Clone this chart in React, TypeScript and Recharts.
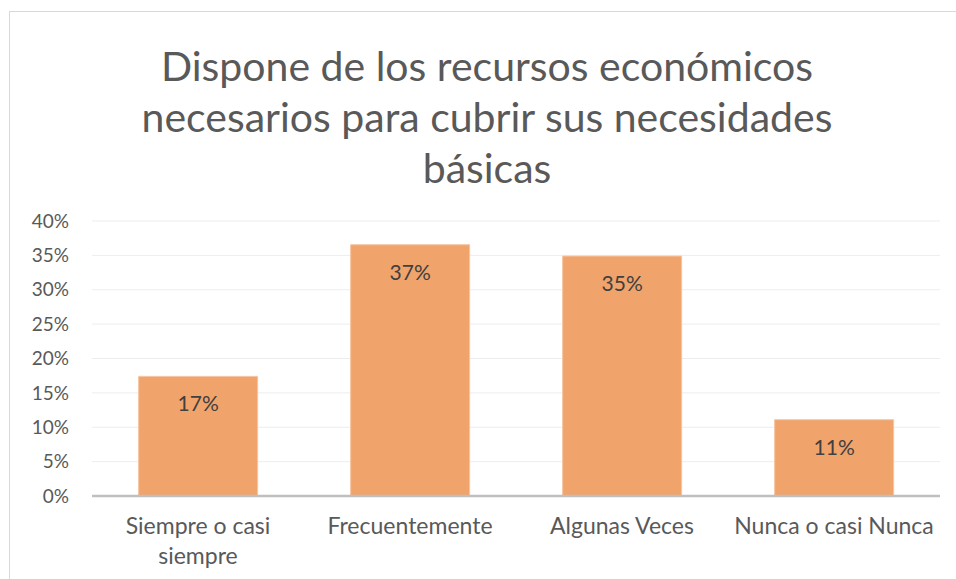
import React from "react";
import { BarChart, Bar, XAxis, YAxis, CartesianGrid, LabelList } from "recharts";

const titleLines = [
  "Dispone de los recursos económicos",
  "necesarios para cubrir sus necesidades",
  "básicas",
];
const categories = ["Siempre o casi siempre", "Frecuentemente", "Algunas Veces", "Nunca o casi Nunca"];
const values = [0.174, 0.3655, 0.349, 0.111];
const yTicks = [0, 0.05, 0.1, 0.15, 0.2, 0.25, 0.3, 0.35, 0.4];

const data = categories.map((c, i) => ({ name: c, value: values[i] }));

const FONT = "Lato, 'Open Sans', sans-serif";

let ctx: CanvasRenderingContext2D | null = null;
const measure = (s: string, font: string) => {
  if (!ctx) ctx = document.createElement("canvas").getContext("2d");
  if (!ctx) return s.length * 10;
  ctx.font = font;
  return ctx.measureText(s).width;
};

const wrap = (text: string, maxW: number, font: string) => {
  const words = text.split(" ");
  const lines: string[] = [];
  let cur = "";
  words.forEach((w) => {
    const t = cur ? cur + " " + w : w;
    if (cur && measure(t, font) > maxW) {
      lines.push(cur);
      cur = w;
    } else cur = t;
  });
  if (cur) lines.push(cur);
  return lines;
};

const XTick = (props: any) => {
  const { x, y, payload } = props;
  const lines = wrap(String(payload.value), 205, "23px Lato");
  return (
    <text x={x} y={y + 30} textAnchor="middle" fill="#595959" fontSize={23} fontFamily={FONT}>
      {lines.map((l, i) => (
        <tspan key={i} x={x} dy={i === 0 ? 0 : 30}>
          {l}
        </tspan>
      ))}
    </text>
  );
};

const BarLabel = (props: any) => {
  const { x, y, width, value } = props;
  return (
    <text
      x={x + width / 2}
      y={y + 35}
      textAnchor="middle"
      fill="#404040"
      fontSize={21}
      fontFamily={FONT}
    >
      {Math.round(value * 100) + "%"}
    </text>
  );
};

export default function App() {
  return (
    <div
      style={{
        position: "fixed",
        left: 0,
        top: 0,
        width: 956,
        height: 579,
        overflow: "hidden",
        background: "#fff",
      }}
    >
      <div
        style={{
          position: "absolute",
          left: 9,
          top: 11,
          width: 1000,
          height: 700,
          borderLeft: "1px solid #d9d9d9",
          borderTop: "1px solid #d9d9d9",
        }}
      />
      <div
        style={{
          position: "absolute",
          left: 9,
          top: 40,
          width: 956,
          textAlign: "center",
          fontFamily: FONT,
          fontSize: 41,
          lineHeight: "51px",
          color: "#595959",
        }}
      >
        {titleLines.map((l, i) => (
          <div key={i}>{l}</div>
        ))}
      </div>
      <div style={{ position: "absolute", left: 0, top: 0 }}>
        <BarChart
          width={956}
          height={579}
          data={data}
          margin={{ top: 221, right: 16, left: 0, bottom: 0 }}
          barCategoryGap="22%"
        >
          <CartesianGrid vertical={false} stroke="#ededed" strokeWidth={1} />
          <XAxis
            dataKey="name"
            axisLine={{ stroke: "#bfbfbf", strokeWidth: 2.5 }}
            tickLine={false}
            tick={<XTick />}
            interval={0}
            height={83}
          />
          <YAxis
            domain={[0, 0.4]}
            ticks={yTicks}
            interval={0}
            width={92}
            axisLine={false}
            tickLine={false}
            tickSize={6}
            tickMargin={17}
            tickFormatter={(v: number) => Math.round(v * 100) + "%"}
            tick={{ fill: "#595959", fontSize: 19, fontFamily: FONT }}
          />
          <Bar dataKey="value" fill="#F0A46C" stroke="#f6c4a0" strokeWidth={1} isAnimationActive={false}>
            <LabelList dataKey="value" content={<BarLabel />} />
          </Bar>
        </BarChart>
      </div>
    </div>
  );
}
